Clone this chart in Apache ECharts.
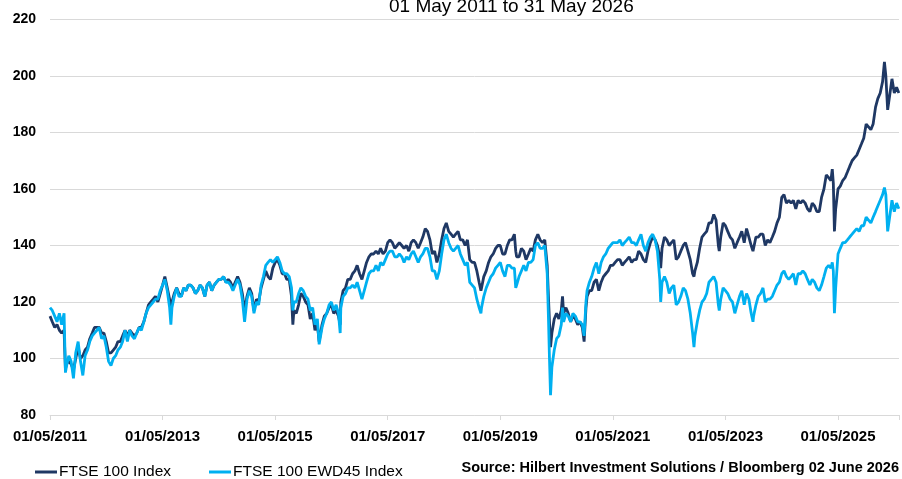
<!DOCTYPE html>
<html>
<head>
<meta charset="utf-8">
<script src="https://cdn.jsdelivr.net/npm/echarts@6/dist/echarts.min.js"></script>
<style>
  html, body { margin: 0; padding: 0; background: #fff; }
  #chart { width: 902px; height: 479px; }
</style>
</head>
<body>
<div id="chart"></div>
<script>
// x tick labels, every two years from 01/05/2011
const tickLabels = ['01/05/2011', '01/05/2013', '01/05/2015', '01/05/2017',
  '01/05/2019', '01/05/2021', '01/05/2023', '01/05/2025'];

const dates = [
  '2011-05-01','2011-05-16','2011-06-01','2011-06-16','2011-07-01','2011-07-16','2011-08-01','2011-08-10','2011-08-16','2011-09-01','2011-09-16','2011-10-01','2011-10-16','2011-11-01','2011-11-16','2011-12-01','2011-12-16',
  '2012-01-01','2012-01-16','2012-02-01','2012-02-15','2012-03-01','2012-03-16','2012-04-01','2012-04-16','2012-05-01','2012-05-16','2012-06-01','2012-06-16','2012-07-01','2012-07-16','2012-08-01','2012-08-16','2012-09-01','2012-09-16','2012-10-01','2012-10-16','2012-11-01','2012-11-16','2012-12-01','2012-12-16',
  '2013-01-01','2013-01-16','2013-02-01','2013-02-15','2013-03-01','2013-03-16','2013-04-01','2013-04-16','2013-05-01','2013-05-16','2013-06-01','2013-06-16','2013-06-24','2013-07-01','2013-07-16','2013-08-01','2013-08-16','2013-09-01','2013-09-16','2013-10-01','2013-10-16','2013-11-01','2013-11-16','2013-12-01','2013-12-16',
  '2014-01-01','2014-01-16','2014-02-01','2014-02-15','2014-03-01','2014-03-16','2014-04-01','2014-04-16','2014-05-01','2014-05-16','2014-06-01','2014-06-16','2014-07-01','2014-07-16','2014-08-01','2014-08-16','2014-09-01','2014-09-16','2014-10-01','2014-10-16','2014-11-01','2014-11-16','2014-12-01','2014-12-16',
  '2015-01-01','2015-01-16','2015-02-01','2015-02-15','2015-03-01','2015-03-16','2015-04-01','2015-04-16','2015-05-01','2015-05-16','2015-06-01','2015-06-16','2015-07-01','2015-07-16','2015-08-01','2015-08-16','2015-08-25','2015-09-01','2015-09-16','2015-10-01','2015-10-16','2015-11-01','2015-11-16','2015-12-01','2015-12-16',
  '2016-01-01','2016-01-16','2016-02-01','2016-02-12','2016-03-01','2016-03-16','2016-04-01','2016-04-16','2016-05-01','2016-05-16','2016-06-01','2016-06-16','2016-06-27','2016-07-01','2016-07-16','2016-08-01','2016-08-16','2016-09-01','2016-09-16','2016-10-01','2016-10-16','2016-11-01','2016-11-16','2016-12-01','2016-12-16',
  '2017-01-01','2017-01-16','2017-02-01','2017-02-15','2017-03-01','2017-03-16','2017-04-01','2017-04-16','2017-05-01','2017-05-16','2017-06-01','2017-06-16','2017-07-01','2017-07-16','2017-08-01','2017-08-16','2017-09-01','2017-09-16','2017-10-01','2017-10-16','2017-11-01','2017-11-16','2017-12-01','2017-12-16',
  '2018-01-01','2018-01-16','2018-02-01','2018-02-15','2018-03-01','2018-03-16','2018-04-01','2018-04-16','2018-05-01','2018-05-16','2018-06-01','2018-06-16','2018-07-01','2018-07-16','2018-08-01','2018-08-16','2018-09-01','2018-09-16','2018-10-01','2018-10-16','2018-11-01','2018-11-16','2018-12-01','2018-12-16','2018-12-28',
  '2019-01-01','2019-01-16','2019-02-01','2019-02-15','2019-03-01','2019-03-16','2019-04-01','2019-04-16','2019-05-01','2019-05-16','2019-06-01','2019-06-16','2019-07-01','2019-07-16','2019-08-01','2019-08-10','2019-08-16','2019-09-01','2019-09-16','2019-10-01','2019-10-16','2019-11-01','2019-11-16','2019-12-01','2019-12-16',
  '2020-01-01','2020-01-16','2020-02-01','2020-02-15','2020-03-01','2020-03-09','2020-03-16','2020-03-23','2020-04-01','2020-04-16','2020-05-01','2020-05-16','2020-06-01','2020-06-09','2020-06-16','2020-07-01','2020-07-16','2020-08-01','2020-08-16','2020-09-01','2020-09-16','2020-10-01','2020-10-16','2020-10-28','2020-11-09','2020-11-16','2020-12-01','2020-12-16',
  '2021-01-01','2021-01-16','2021-02-01','2021-02-15','2021-03-01','2021-03-16','2021-04-01','2021-04-16','2021-05-01','2021-05-16','2021-06-01','2021-06-16','2021-07-01','2021-07-16','2021-08-01','2021-08-16','2021-09-01','2021-09-16','2021-10-01','2021-10-16','2021-11-01','2021-11-16','2021-12-01','2021-12-16',
  '2022-01-01','2022-01-16','2022-02-01','2022-02-15','2022-03-01','2022-03-07','2022-03-16','2022-04-01','2022-04-16','2022-05-01','2022-05-16','2022-06-01','2022-06-16','2022-07-01','2022-07-16','2022-08-01','2022-08-16','2022-09-01','2022-09-16','2022-10-01','2022-10-10','2022-10-16','2022-11-01','2022-11-16','2022-12-01','2022-12-16',
  '2023-01-01','2023-01-16','2023-02-01','2023-02-15','2023-03-01','2023-03-16','2023-03-22','2023-04-01','2023-04-16','2023-05-01','2023-05-16','2023-06-01','2023-06-16','2023-07-01','2023-07-16','2023-08-01','2023-08-16','2023-09-01','2023-09-16','2023-10-01','2023-10-16','2023-10-28','2023-11-01','2023-11-16','2023-12-01','2023-12-16',
  '2024-01-01','2024-01-16','2024-02-01','2024-02-15','2024-03-01','2024-03-16','2024-04-01','2024-04-16','2024-05-01','2024-05-16','2024-06-01','2024-06-16','2024-07-01','2024-07-16','2024-08-01','2024-08-16','2024-09-01','2024-09-16','2024-10-01','2024-10-16','2024-11-01','2024-11-16','2024-12-01','2024-12-16',
  '2025-01-01','2025-01-16','2025-02-01','2025-02-15','2025-03-01','2025-03-16','2025-03-25','2025-04-01','2025-04-08','2025-04-16','2025-05-01','2025-05-16','2025-06-01','2025-06-16','2025-07-01','2025-07-16','2025-08-01','2025-08-16','2025-09-01','2025-09-16','2025-10-01','2025-10-16','2025-11-01','2025-11-16','2025-12-01','2025-12-16',
  '2026-01-01','2026-01-16','2026-02-01','2026-02-15','2026-02-26','2026-03-07','2026-03-19','2026-04-01','2026-04-16','2026-05-01','2026-05-16','2026-05-31'
];

// FTSE 100 Index (rebased)
const ftse100 = [
  115,113,111,112,110,109,110,96,98,99,98,96,100,104,100,101,103,
  104,107,109,111,111,111,109,109,106,102,102,103,104,106,106,108,110,108,110,109,108,109,111,111,
  113,116,119,120,121,122,120,123,126,129,125,121,117,120,123,125,123,122,125,124,126,126,125,123,124,
  126,125,122,126,127,124,126,127,128,128,129,127,128,127,125,127,129,127,123,117,122,125,123,117,
  121,120,125,128,131,129,128,132,134,135,133,130,130,128,128,122,112,117,116,119,123,122,120,119,114,
  116,110,112,106,112,115,116,118,119,116,117,115,112,120,124,125,128,128,130,131,133,130,128,131,134,
  136,137,137,138,137,139,137,138,141,142,141,139,140,141,140,139,140,138,141,142,141,139,141,143,
  146,145,142,137,138,134,137,142,146,148,145,144,143,144,145,142,142,140,142,135,134,134,131,127,124,
  125,129,131,134,136,137,139,140,140,137,137,140,142,142,144,138,136,136,139,138,135,137,139,138,142,
  144,142,141,142,133,122,113,104,109,114,116,114,117,122,116,118,116,113,115,114,112,113,111,106,118,122,124,124,
  127,128,124,127,129,130,131,133,133,134,135,135,133,134,135,136,134,135,135,138,137,135,134,138,
  141,143,142,140,136,132,139,143,142,140,141,142,135,136,138,140,141,138,135,130,129,131,134,139,143,144,
  145,148,148,151,149,140,138,143,148,147,145,143,142,139,141,143,145,141,146,143,140,138,139,143,143,144,
  144,140,142,141,143,145,148,150,157,158,155,156,155,156,153,156,155,156,155,153,152,155,154,152,
  152,157,160,165,164,163,167,162,145,153,160,161,163,164,166,168,170,171,172,174,176,178,183,182,181,183,
  189,192,194,198,205,200,188,193,199,194,196,194
];

// FTSE 100 EWD45 Index (rebased)
const ewd45 = [
  118,117,115,113,116,112,116,95,97,101,99,93,102,106,99,94,101,
  103,106,108,109,110,111,107,108,104,99,97.5,100,101,103,104,106,110,106,110,108,107,109,111,110,
  113,116,118,119,120,121,121,124,126,128,124,118,112,118,122,125,122,122,125,124,126,126,125,123,124,
  126,125,122,126,127,124,126,127,128,128,129,127,127,126,124,126,128,126,121,113,121,124,122,116,
  120,119,126,129,133,134,135,134,135,136,134,131,130,130,129,125,117,120,120,123,125,124,122,121,117,
  118,112,114,105,111,114,116,119,120,117,119,116,109,118,122,123,125,125,126,125,127,124,121,124,127,
  130,131,131,133,131,134,133,135,137,138,138,136,136,137,136,134,136,135,137,138,136,134,136,137,
  139,139,136,131,131,128,131,137,142,144,141,139,138,139,140,137,135,133,134,127,126,125,121,118,116,
  118,122,125,127,129,130,132,133,134,131,129,133,133,132,132,125,126,129,131,133,131,134,134,135,140,
  141,139,139,140,130,115,100,87,97,103,107,108,112,118,113,116,115,113,116,115,113,113,112,108,120,124,127,129,
  132,134,130,134,136,137,139,140,141,141,141,142,140,141,142,143,141,141,140,142,144,140,138,141,
  143,144,142,138,128,120,127,129,127,123,125,126,119,120,122,125,124,121,116,109,104,108,113,117,120,121,
  123,127,128,129,127,119,117,121,125,124,123,121,120,116,119,122,124,119,123,121,116,113,115,119,122,123,
  125,120,121,121,122,124,126,127,130,131,129,128,129,130,126,130,130,131,130,128,126,128,127,125,
  124,126,129,132,133,132,134,131,116,125,137,139,141,141,142,143,144,145,146,145,147,147,150,149,148,150,
  152,154,156,158,160.5,158,145,150,156,152,155,153
];

const seriesNames = ['FTSE 100 Index', 'FTSE 100 EWD45 Index'];

// months since 01/05/2011 (the x axis runs in months)
const toMonth = s => {
  const [y, m, d] = s.split('-').map(Number);
  const days = new Date(Date.UTC(y, m, 0)).getUTCDate();
  return (y - 2011) * 12 + (m - 5) + (d - 1) / days;
};

const font = "'Liberation Sans', Arial, sans-serif";
const chart = echarts.init(document.getElementById('chart'));

chart.setOption({
  animation: false,
  textStyle: { fontFamily: font },
  title: [
    {
      text: '01 May 2011 to 31 May 2026',
      left: 389,
      top: -3,
      padding: 0,
      textStyle: { fontFamily: font, fontSize: 19, fontWeight: 'normal', color: '#000' }
    },
    {
      text: 'Source: Hilbert Investment Solutions / Bloomberg 02 June 2026',
      right: 3,
      top: 460,
      padding: 0,
      textStyle: { fontFamily: font, fontSize: 14.5, fontWeight: 'bold', color: '#000' }
    }
  ],
  legend: {
    data: seriesNames,
    left: 35,
    top: 464,
    padding: 0,
    icon: 'rect',
    itemWidth: 22,
    itemHeight: 3,
    itemGap: 38,
    itemStyle: { borderWidth: 0 },
    textStyle: { fontFamily: font, fontSize: 15.5, color: '#000', padding: [0, 0, 0, -3] }
  },
  grid: { left: 50, right: 0, top: 19.5, bottom: 64, containLabel: false },
  xAxis: {
    type: 'value',
    min: 0,
    max: 181,
    interval: 24,
    axisLine: { show: true, lineStyle: { color: '#d9d9d9', width: 1 } },
    axisTick: { show: true, length: 5, lineStyle: { color: '#d9d9d9' } },
    splitLine: { show: false },
    axisLabel: {
      margin: 14,
      fontFamily: font,
      fontSize: 15,
      fontWeight: 'bold',
      color: '#000',
      formatter: v => (v % 24 === 0 ? tickLabels[v / 24] || '' : '')
    }
  },
  yAxis: {
    type: 'value',
    min: 80,
    max: 220,
    interval: 20,
    axisLine: { show: false },
    axisTick: { show: false },
    splitLine: { lineStyle: { color: '#d9d9d9', width: 1 } },
    axisLabel: { margin: 14, fontFamily: font, fontSize: 14, fontWeight: 'bold', color: '#000' }
  },
  series: [
    {
      name: seriesNames[0],
      type: 'line',
      showSymbol: false,
      color: '#1F3864',
      lineStyle: { width: 2.8, color: '#1F3864' },
      data: dates.map((d, i) => [toMonth(d), ftse100[i]])
    },
    {
      name: seriesNames[1],
      type: 'line',
      showSymbol: false,
      color: '#00B0F0',
      lineStyle: { width: 2.8, color: '#00B0F0' },
      data: dates.map((d, i) => [toMonth(d), ewd45[i]])
    }
  ]
});
</script>
</body>
</html>
